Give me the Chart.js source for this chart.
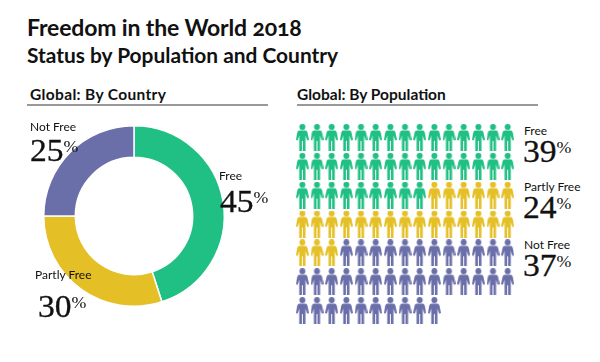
<!DOCTYPE html>
<html>
<head>
<meta charset="utf-8">
<script src="https://cdn.jsdelivr.net/npm/chart.js@4"></script>
<style>
    html, body { margin: 0; background: #fff; }
    #page { position: relative; width: 600px; height: 362px; overflow: hidden; font-family: Lato, sans-serif; color: #111; }
    #page div { position: absolute; white-space: nowrap; }
    canvas { position: absolute; }
    .name { font-size: 12px; line-height: 14px; }
    .pct { font-family: "Liberation Serif", serif; font-size: 32px; line-height: 36px; transform: scaleX(1.05); transform-origin: left; -webkit-text-stroke: 0.3px #111; }
    .pct span { font-size: 17px; vertical-align: 9px; -webkit-text-stroke: 0; }
    .head { font-size: 15.5px; font-weight: 700; line-height: 18px; }
    .rule { height: 2px; background: #999; }
</style>
</head>
<body>
<div id="page">
    <div style="left:27px;top:13px;font-size:23px;font-weight:700;line-height:28px;letter-spacing:-0.15px;font-feature-settings:'onum';">Freedom in the World 2018</div>
    <div style="left:27px;top:42px;font-size:20.9px;font-weight:700;line-height:25px;">Status by Population and Country</div>

    <div class="head" style="left:30px;top:85px;letter-spacing:0.35px;">Global: By Country</div>
    <div class="rule" style="left:27px;top:104px;width:241px;"></div>
    <div class="head" style="left:297px;top:85px;">Global: By Population</div>
    <div class="rule" style="left:297px;top:104px;width:241px;"></div>

    <canvas id="donut" width="200" height="200" style="left:34px;top:116px;"></canvas>
    <canvas id="people" width="220" height="202" style="left:295px;top:123px;"></canvas>

    <div class="name" style="left:30px;top:120px;">Not Free</div>
    <div class="pct" style="left:30px;top:129px;">25<span>%</span></div>
    <div class="name" style="left:219px;top:169px;">Free</div>
    <div class="pct" style="left:220px;top:180px;">45<span>%</span></div>
    <div class="name" style="left:35px;top:268px;">Partly Free</div>
    <div class="pct" style="left:38px;top:285px;">30<span>%</span></div>

    <div class="name" style="left:524px;top:124px;">Free</div>
    <div class="pct" style="left:523px;top:130px;">39<span>%</span></div>
    <div class="name" style="left:524px;top:180px;">Partly Free</div>
    <div class="pct" style="left:523px;top:186px;">24<span>%</span></div>
    <div class="name" style="left:524px;top:238px;">Not Free</div>
    <div class="pct" style="left:523px;top:244px;">37<span>%</span></div>
</div>

<script>
// values
const countryLabels = ['Free', 'Partly Free', 'Not Free'];
const countryValues = [45, 30, 25];
const populationLabels = ['Free', 'Partly Free', 'Not Free'];
const populationValues = [39, 24, 37];
const colours = ['#20bf83', '#e4bf25', '#6a6fa9'];
const perRow = 15;

// little person used as the point style
function makePerson(colour) {
    const c = document.createElement('canvas');
    c.width = 13;
    c.height = 27;
    const g = c.getContext('2d');
    g.fillStyle = colour;
    g.beginPath();
    g.arc(6.5, 3, 3, 0, Math.PI * 2);
    g.fill();
    g.beginPath();
    g.moveTo(3.6, 6.5);
    g.lineTo(9.4, 6.5);
    g.quadraticCurveTo(11.2, 6.5, 11.6, 8.5);
    g.lineTo(13, 16);
    g.lineTo(11.2, 16.6);
    g.lineTo(9.6, 11.5);
    g.lineTo(9.6, 27);
    g.lineTo(7, 27);
    g.lineTo(7, 17);
    g.lineTo(6, 17);
    g.lineTo(6, 27);
    g.lineTo(3.4, 27);
    g.lineTo(3.4, 11.5);
    g.lineTo(1.8, 16.6);
    g.lineTo(0, 16);
    g.lineTo(1.4, 8.5);
    g.quadraticCurveTo(1.8, 6.5, 3.6, 6.5);
    g.fill();
    return c;
}

// each person is one percent, filled row by row
let n = 0;
const peopleSets = populationValues.map((value, i) => {
    const pts = [];
    for (let k = 0; k < value; k++) {
        pts.push({ x: n % perRow, y: Math.floor(n / perRow) });
        n++;
    }
    return {
        label: populationLabels[i],
        data: pts,
        pointStyle: makePerson(colours[i]),
        clip: false
    };
});

new Chart(document.getElementById('donut'), {
    type: 'doughnut',
    data: {
        labels: countryLabels,
        datasets: [{
            data: countryValues,
            backgroundColor: colours,
            borderColor: '#fff',
            borderWidth: 1.5
        }]
    },
    options: {
        responsive: false,
        animation: false,
        cutout: '65%',
        layout: { padding: 9 },
        plugins: { legend: { display: false }, tooltip: { enabled: false } }
    }
});

new Chart(document.getElementById('people'), {
    type: 'scatter',
    data: { datasets: peopleSets },
    options: {
        responsive: false,
        animation: false,
        layout: { autoPadding: false },
        scales: {
            x: { display: false, min: -0.5, max: 14.5 },
            y: { display: false, min: -0.5, max: 6.5, reverse: true }
        },
        plugins: { legend: { display: false }, tooltip: { enabled: false } }
    }
});
</script>
</body>
</html>
